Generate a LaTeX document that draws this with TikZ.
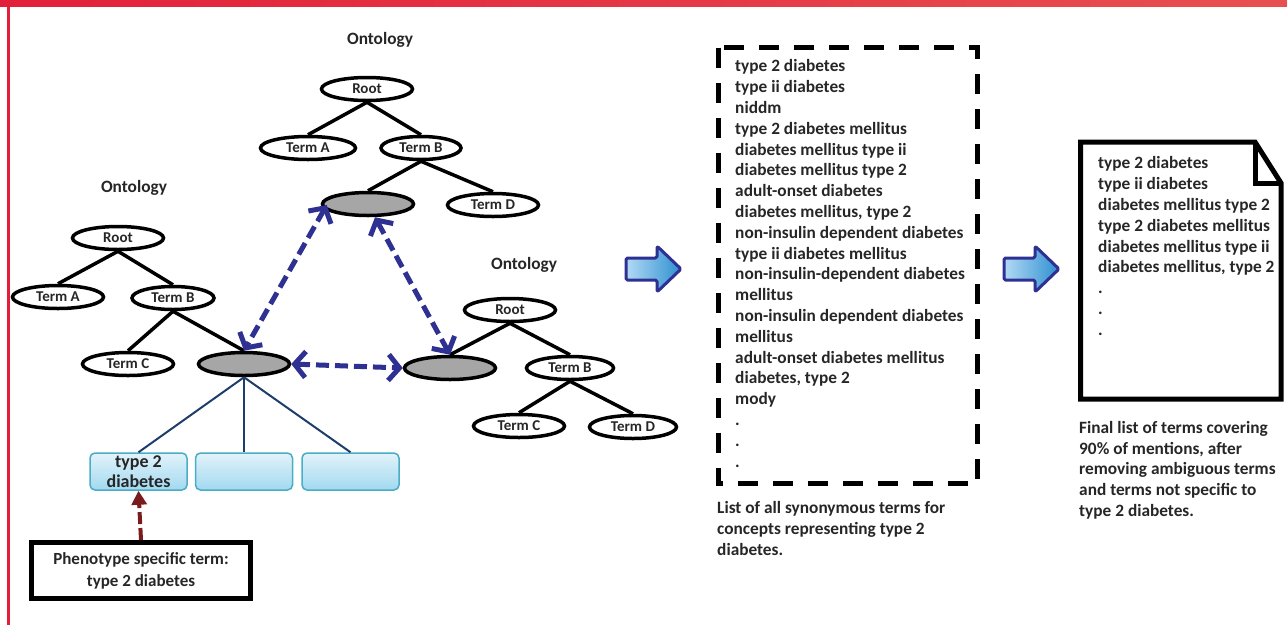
\documentclass[tikz,border=0pt]{standalone}
\usepackage{fontspec}
\setmainfont{Carlito}[BoldFont={Carlito Bold}]
\usetikzlibrary{shapes.geometric,arrows.meta}
\definecolor{txt}{HTML}{262626}
\definecolor{redL}{HTML}{E21F3A}
\definecolor{redR}{HTML}{E85050}
\definecolor{navy}{HTML}{2E3192}
\definecolor{treeblue}{HTML}{1F3D6B}
\definecolor{boxline}{HTML}{4BACC6}
\definecolor{boxtop}{HTML}{E2F3FA}
\definecolor{boxbot}{HTML}{A2D9F0}
\definecolor{grayfill}{HTML}{A6A6A6}
\definecolor{arrL}{HTML}{B2DAF4}
\definecolor{arrR}{HTML}{2E8FD1}
\definecolor{darkred}{HTML}{7B1B1B}
\tikzset{
  ell/.style={ellipse, draw=black, line width=3.5pt, inner sep=0pt, minimum width=91pt, minimum height=23pt, font=\fontsize{15}{16}\selectfont\bfseries, text=txt},
  gry/.style={ell, fill=grayfill},
  tree/.style={line width=3.5pt, black},
  ontlabel/.style={font=\fontsize{17.3}{19}\selectfont\bfseries, text=txt},
  link/.style={draw=navy, line width=5pt, dash pattern=on 13pt off 6pt,
    arrows={Straight Barb[length=11pt,width=26pt]-Straight Barb[length=11pt,width=26pt]}},
  bluebranch/.style={draw=treeblue, line width=2pt},
  bbox/.style={rounded corners=5pt, draw=boxline, line width=1.5pt, top color=boxtop, bottom color=boxbot, minimum width=97pt, minimum height=37pt, inner sep=0pt, align=center, font=\fontsize{18}{20}\selectfont\bfseries, text=txt},
  bigarrow/.style={draw=navy, line width=3pt, left color=arrL, right color=arrR, rounded corners=1.5pt, line join=round},
  listtext/.style={anchor=base west, inner sep=0pt, font=\fontsize{17.3}{19}\selectfont\bfseries, text=txt},
}
\begin{document}
\begin{tikzpicture}[x=1pt,y=-1pt]
\useasboundingbox (0,0) rectangle (1287,625);
% frame
\shade[left color=redL, right color=redR] (0,0) rectangle (1287,6);
\fill[redL] (7,0) rectangle (9.5,625);

% top ontology
\node[ontlabel] (ot) at (380,40) {Ontology};
\node[ell] (tr) at (367,89) {Root};
\node[ell, minimum width=95pt] (ta) at (308,148) {Term A};
\node[ell, minimum width=80pt] (tb) at (421,148) {Term B};
\node[gry] (g1) at (368,204) {};
\node[ell] (td) at (493,205) {Term D};
\draw[tree] (tr.south) -- (ta.north);
\draw[tree] (tr.south) -- (tb.north);
\draw[tree] (tb.south) -- (g1.north);
\draw[tree] (tb.south) -- (td.north);

% left ontology
\node[ontlabel] (ol) at (134,188) {Ontology};
\node[ell] (lr) at (118,238) {Root};
\node[ell] (la) at (58,297) {Term A};
\node[ell, minimum width=82pt] (lb) at (173,298) {Term B};
\node[ell] (lc) at (128,364) {Term C};
\node[gry] (g2) at (244,364) {};
\draw[tree] (lr.south) -- (la.north);
\draw[tree] (lr.south) -- (lb.north);
\draw[tree] (lb.south) -- (lc.north);
\draw[tree] (lb.south) -- (g2.north);

% right ontology
\node[ontlabel] (or) at (524,265) {Ontology};
\node[ell] (rr) at (510,310) {Root};
\node[gry] (g3) at (450,368) {};
\node[ell, minimum width=87pt] (rb) at (570,368) {Term B};
\node[ell] (rc) at (519,426) {Term C};
\node[ell, minimum width=87pt] (rd) at (633,427) {Term D};
\draw[tree] (rr.south) -- (g3.north);
\draw[tree] (rr.south) -- (rb.north);
\draw[tree] (rb.south) -- (rc.north);
\draw[tree] (rb.south) -- (rd.north);

% mappings
\draw[link] ([xshift=6pt,yshift=-1pt]g1.west) -- (g2.north);
\draw[link] ([xshift=7pt]g1.south) -- (g3.north);
\draw[link] (g2.east) -- (g3.west);

% blue boxes
\node[bbox] (b1) at (138.5,471.5) {type 2\\diabetes};
\node[bbox] (b2) at (244,471.5) {};
\node[bbox] (b3) at (350.5,471.5) {};
\draw[bluebranch] (g2.south) -- (b1.north);
\draw[bluebranch] (g2.south) -- (b2.north);
\draw[bluebranch] (g2.south) -- (b3.north);

% phenotype box
\node[draw=black, line width=5pt, minimum width=219pt, minimum height=56pt, align=center, font=\fontsize{17}{22}\selectfont\bfseries, text=txt] (ph) at (141,570.5) {Phenotype specific term:\\type 2 diabetes};
\draw[darkred, line width=4pt, dash pattern=on 12pt off 4pt, -{Triangle[length=14pt,width=15pt]}] (ph.north) -- (b1.south);

% big arrows
\draw[bigarrow] (626,258) -- (657,258) -- (657,246) -- (681,269) -- (657,292) -- (657,280) -- (626,280) -- cycle;
\draw[bigarrow] (1004,258) -- (1035,258) -- (1035,246) -- (1059,269) -- (1035,292) -- (1035,280) -- (1004,280) -- cycle;

% dashed list box
\draw[line width=5pt, dash pattern=on 20pt off 15pt] (718.5,47.5) rectangle (977.5,483.5);
\foreach \t [count=\i] in {type 2 diabetes, type ii diabetes, niddm, type 2 diabetes mellitus, diabetes mellitus type ii, diabetes mellitus type 2, adult-onset diabetes, {diabetes mellitus, type 2}, non-insulin dependent diabetes, type ii diabetes mellitus, non-insulin-dependent diabetes, mellitus, non-insulin dependent diabetes, mellitus, adult-onset diabetes mellitus, {diabetes, type 2}, mody, ., ., .}
  \node[listtext] (l\i) at (735, 51+20.8*\i) {\t};
\node[listtext, align=left, anchor=north west, font=\fontsize{17.3}{21}\selectfont\bfseries] (cap1) at (717,501) {List of all synonymous terms for\\concepts representing type 2\\diabetes.};

% document
\draw[line width=5pt, line join=miter] (1080.5,142) -- (1255,142) -- (1281,183) -- (1281,399) -- (1080.5,399) -- cycle;
\draw[line width=5pt, line join=miter] (1255,142) -- (1255,183) -- (1281,183);
\foreach \t [count=\i] in {type 2 diabetes, type ii diabetes, diabetes mellitus type 2, type 2 diabetes mellitus, diabetes mellitus type ii, {diabetes mellitus, type 2}, ., ., .}
  \node[listtext] (d\i) at (1098, 148+20.8*\i) {\t};
\node[listtext, align=left, anchor=north west, font=\fontsize{17.3}{20.7}\selectfont\bfseries] (cap2) at (1079,421) {Final list of terms covering\\90\% of mentions, after\\removing ambiguous terms\\and terms not specific to\\type 2 diabetes.};
\end{tikzpicture}
\end{document}
